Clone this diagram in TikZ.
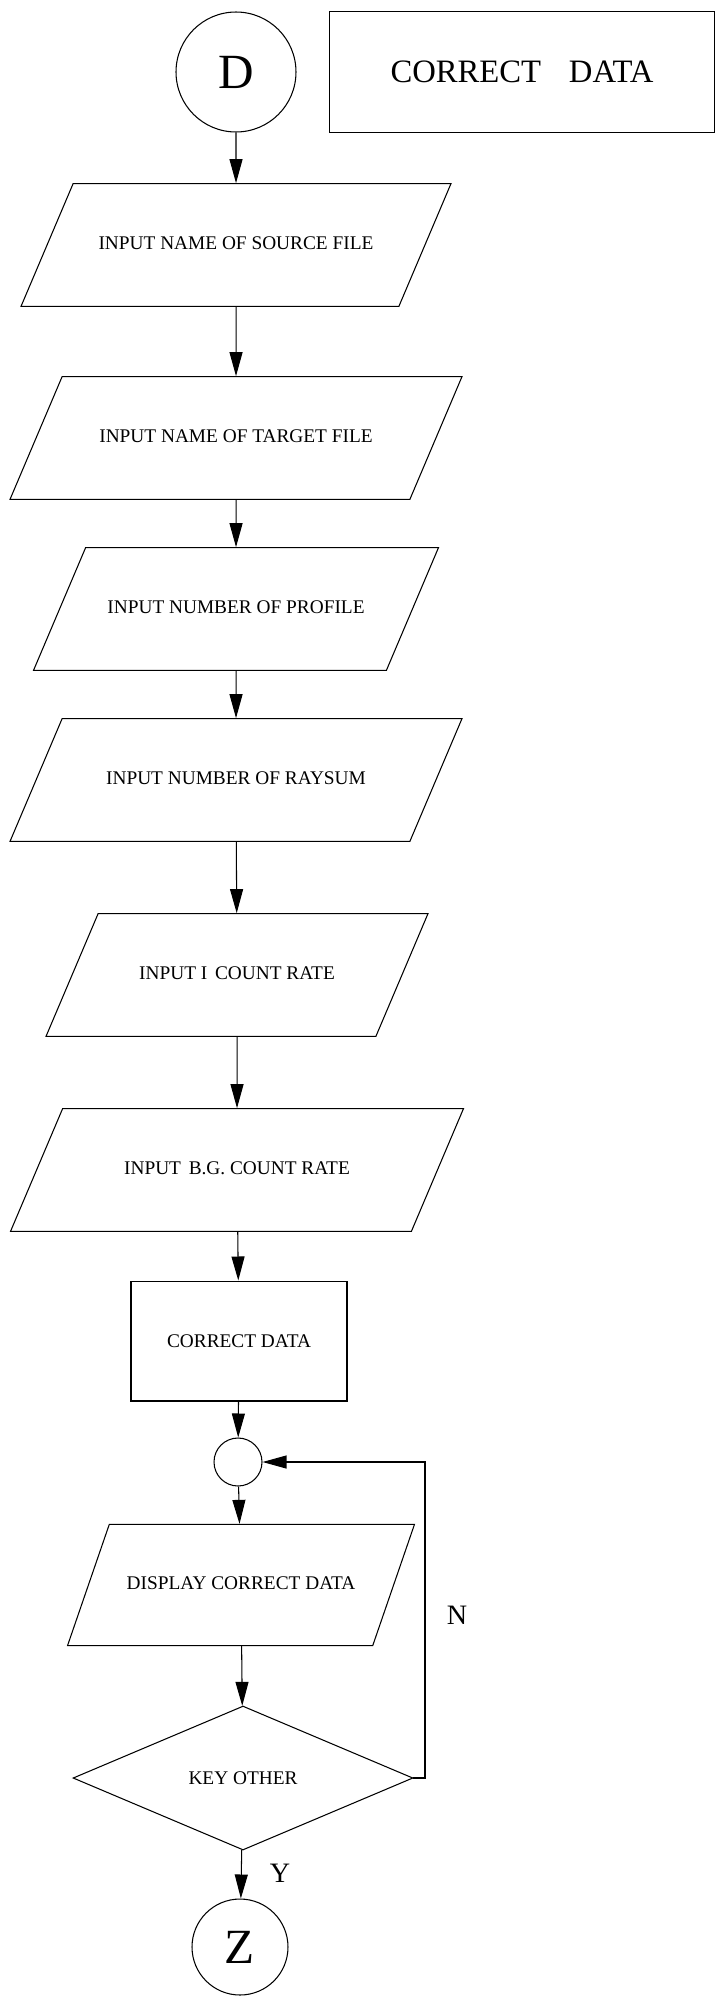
\documentclass[tikz,border=0pt]{standalone}
\usepackage{fontspec}
\setmainfont{Liberation Serif}
\usepackage{tikz}
\usetikzlibrary{shapes.geometric}
\usetikzlibrary{arrows.meta}
\usetikzlibrary{positioning}

\begin{document}
\begin{tikzpicture}[x=0.02cm, y=-0.02cm, line width=0.6pt,
		inbox/.style={draw, trapezium, trapezium left angle=67, trapezium right angle=113, trapezium stretches body, inner xsep=0pt, inner ysep=29.9pt, text height=7.5pt, text depth=2.5pt, font=\fontsize{11}{13}\selectfont},
		procbox/.style={draw, rectangle, inner sep=0pt, font=\fontsize{11}{13}\selectfont},
		conn/.style={draw, circle, inner sep=0pt, font=\fontsize{28}{30}\selectfont},
		decbox/.style={draw, diamond, aspect=2.36, minimum width=6.8cm, minimum height=2.88cm, inner sep=0pt, font=\fontsize{11}{13}\selectfont},
		flow/.style={-{Triangle[length=0.48cm, width=0.26cm]}}]

		\useasboundingbox (0,0) rectangle (721,1998);

		\node[conn, minimum size=2.4cm] (d) at (236,72) {D};
		\node[procbox, minimum width=7.7cm, minimum height=2.42cm, font=\fontsize{18.6}{20}\selectfont] (title) at (522,72) {CORRECT\hspace{0.85em}DATA};

		\node[inbox, minimum width=8.6cm] (source) at (236,245) {INPUT NAME OF SOURCE FILE};
		\node[inbox, minimum width=9.04cm] (target) at (236,438) {INPUT NAME OF TARGET FILE};
		\node[inbox, minimum width=8.1cm] (profile) at (236,609) {INPUT NUMBER OF PROFILE};
		\node[inbox, minimum width=9.04cm] (raysum) at (236,780) {INPUT NUMBER OF RAYSUM};
		\node[inbox, minimum width=7.64cm] (icount) at (237,975) {INPUT I\hspace{0.4em}COUNT RATE};
		\node[inbox, minimum width=9.06cm] (bgcount) at (237,1170) {INPUT\hspace{0.4em}B.G. COUNT RATE};

		\node[procbox, minimum width=4.32cm, minimum height=2.4cm] (correct) at (239,1341) {CORRECT DATA};
		\node[conn, minimum size=0.96cm] (join) at (238,1462) {};
		\node[inbox, trapezium left angle=71, trapezium right angle=109, minimum width=6.94cm, inner ysep=29.5pt] (display) at (241,1585) {DISPLAY CORRECT DATA};
		\node[decbox] (key) at (243,1778) {KEY OTHER};
		\node[conn, minimum size=1.92cm] (z) at (240,1947) {Z};

		\coordinate (back) at (425,1778);

		\draw[flow] (d) -- (source);
		\draw[flow] (source) -- (target);
		\draw[flow] (target) -- (profile);
		\draw[flow] (profile) -- (raysum);
		\draw[flow] (raysum) -- (icount);
		\draw[flow] (icount) -- (bgcount);
		\draw[flow] (bgcount) -- (correct);
		\draw[flow] (correct) -- (join);
		\draw[flow] (join) -- (display);
		\draw[flow] (display) -- (key);
		\draw[flow] (key) -- (z);
		\draw[flow] (key.east) -- (back) |- (join.east);

		\node[font=\fontsize{16}{18}\selectfont] (no) at (457,1615) {N};
		\node[font=\fontsize{16}{18}\selectfont] (yes) at (280,1873) {Y};

\end{tikzpicture}
\end{document}
